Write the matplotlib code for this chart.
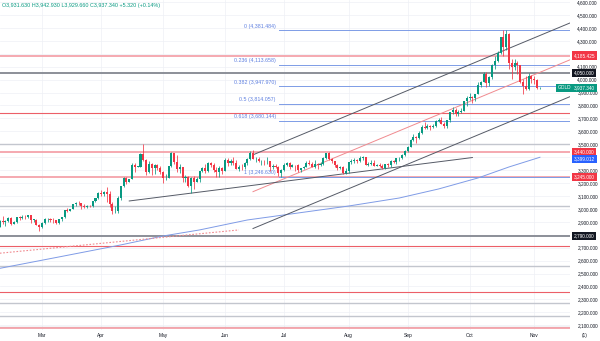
import numpy as np
import pandas as pd
import matplotlib
matplotlib.use("Agg")
import matplotlib.pyplot as plt
from matplotlib.transforms import blended_transform_factory

plt.rcParams["font.family"] = ["Liberation Sans", "DejaVu Sans"]

# -------- DAILY GOLD CANDLES (Feb 10 - Nov 5 2025) --------
dates = pd.bdate_range("2025-02-10", "2025-11-05")
first_open = 2861.0

closes = [
    2908, 2898, 2905, 2929, 2883,  2898, 2935, 2933, 2939, 2936,
    2952, 2915, 2916, 2876, 2857,  2893, 2918, 2920, 2911, 2910,
    2889, 2918, 2934, 2988, 2984,  3001, 3035, 3048, 3044, 3023,
    3012, 3020, 3019, 3057, 3084,  3124, 3113, 3133, 3114, 3037,
    2982, 2982, 3082, 3175, 3237,  3210, 3229, 3343, 3327, 3327,
    3424, 3381, 3288, 3349, 3319,  3343, 3317, 3288, 3239, 3240,
    3334, 3431, 3366, 3306, 3325,  3235, 3249, 3178, 3240, 3205,
    3230, 3290, 3315, 3295, 3357,  3343, 3300, 3288, 3318, 3290,
    3380, 3352, 3373, 3353, 3310,  3326, 3322, 3355, 3386, 3432,
    3385, 3389, 3369, 3370, 3368,  3368, 3323, 3333, 3327, 3274,
    3303, 3338, 3357, 3326, 3337,  3336, 3302, 3313, 3324, 3355,
    3344, 3324, 3347, 3339, 3350,  3397, 3431, 3387, 3368, 3337,
    3314, 3326, 3275, 3290, 3362,  3373, 3380, 3369, 3396, 3398,
    3342, 3348, 3356, 3335, 3336,  3332, 3315, 3348, 3339, 3372,
    3365, 3393, 3397, 3416, 3448,  3476, 3533, 3559, 3545, 3586,
    3636, 3626, 3640, 3634, 3643,  3679, 3690, 3660, 3644, 3685,
    3746, 3764, 3736, 3749, 3760,  3833, 3858, 3866, 3857, 3887,
    3961, 3985, 4040, 3976, 4017,  4110, 4142, 4209, 4326, 4251,
    4356, 4125, 4094, 4126, 4112,  3983, 3953, 3930, 4025, 4002,
    4000, 3931.63, 3937.34,
]
highs = [
    2911, 2942, 2910, 2935, 2936,  2906, 2937, 2947, 2955, 2954,
    2956, 2956, 2925, 2923, 2882,  2896, 2928, 2930, 2926, 2930,
    2915, 2922, 2940, 2990, 3005,  3002, 3038, 3050, 3057, 3048,
    3037, 3027, 3033, 3060, 3087,  3128, 3149, 3138, 3167, 3136,
    3055, 3023, 3100, 3175, 3245,  3245, 3230, 3358, 3357, 3332,
    3430, 3500, 3386, 3367, 3352,  3345, 3350, 3328, 3289, 3269,
    3335, 3438, 3435, 3414, 3348,  3327, 3265, 3253, 3245, 3252,
    3250, 3295, 3325, 3345, 3366,  3365, 3351, 3325, 3331, 3325,
    3392, 3392, 3385, 3403, 3375,  3340, 3349, 3360, 3397, 3446,
    3452, 3403, 3399, 3376, 3375,  3399, 3368, 3348, 3350, 3328,
    3307, 3358, 3365, 3366, 3344,  3343, 3345, 3318, 3330, 3368,
    3375, 3366, 3377, 3352, 3361,  3402, 3434, 3439, 3393, 3373,
    3345, 3334, 3334, 3315, 3363,  3385, 3390, 3385, 3409, 3409,
    3404, 3360, 3375, 3375, 3345,  3358, 3345, 3350, 3351, 3379,
    3376, 3393, 3398, 3423, 3453,  3489, 3540, 3578, 3564, 3600,
    3646, 3674, 3657, 3650, 3655,  3685, 3703, 3707, 3668, 3686,
    3749, 3791, 3778, 3761, 3779,  3835, 3872, 3895, 3875, 3890,
    3978, 3990, 4060, 4059, 4025,  4117, 4179, 4218, 4327, 4380,
    4381.484, 4357, 4161, 4160, 4145,  4115, 4004, 4030, 4047, 4032,
    4030, 4003, 3942.93,
]
lows = [
    2859, 2880, 2864, 2896, 2876,  2880, 2890, 2917, 2921, 2918,
    2930, 2890, 2895, 2874, 2832,  2852, 2886, 2895, 2896, 2894,
    2880, 2882, 2907, 2932, 2978,  2982, 2998, 3025, 3030, 2999,
    3003, 3005, 3013, 3015, 3055,  3077, 3100, 3103, 3055, 3015,
    2957, 2970, 2970, 3072, 3170,  3193, 3205, 3228, 3283, 3320,
    3323, 3367, 3260, 3278, 3265,  3268, 3300, 3268, 3202, 3223,
    3237, 3324, 3345, 3282, 3280,  3206, 3208, 3168, 3120, 3153,
    3205, 3204, 3285, 3277, 3287,  3321, 3285, 3245, 3245, 3271,
    3289, 3333, 3343, 3339, 3306,  3293, 3301, 3310, 3340, 3377,
    3382, 3366, 3362, 3340, 3340,  3348, 3295, 3310, 3315, 3255,
    3248, 3296, 3332, 3311, 3323,  3296, 3288, 3283, 3310, 3321,
    3340, 3320, 3319, 3310, 3333,  3340, 3383, 3380, 3351, 3324,
    3301, 3308, 3268, 3268, 3281,  3347, 3352, 3358, 3364, 3380,
    3341, 3331, 3342, 3330, 3330,  3323, 3311, 3312, 3324, 3321,
    3351, 3350, 3370, 3384, 3408,  3436, 3475, 3526, 3511, 3542,
    3578, 3620, 3620, 3611, 3625,  3636, 3670, 3655, 3628, 3627,
    3670, 3733, 3718, 3722, 3739,  3757, 3793, 3842, 3819, 3833,
    3885, 3942, 3983, 3945, 3947,  4006, 4085, 4135, 4195, 4185,
    4226, 4082, 4004, 4077, 4046,  3971, 3886, 3920, 3916, 3975,
    3963, 3928, 3929.66,
]

# -------- 200 DAY MA --------
ma_dates = ["2025-02-10", "2025-03-11", "2025-04-10", "2025-05-01", "2025-05-20",
            "2025-06-12", "2025-07-08", "2025-08-01", "2025-08-27", "2025-09-16",
            "2025-10-06", "2025-10-21", "2025-11-05"]
ma_values = [2540, 2628, 2721, 2790, 2837, 2914, 2968, 3022, 3084, 3154, 3239, 3324, 3399]

# -------- HORIZONTAL LEVELS --------
level_prices = [4185.425, 4050, 3742, 3500, 3440, 3245, 3022, 2790, 2711, 2561,
                2357, 2270, 2172, 2090, 2076]
level_kind = ["pink", "dark", "red", "gray", "pink", "pink", "gray", "dark", "red", "gray",
              "red", "gray", "gray", "gray", "pink"]

# -------- FIBONACCI RETRACEMENT --------
fib_ratios = [0, 0.236, 0.382, 0.5, 0.618, 1]
fib_high = 4381.484
fib_low = 3246.63
fib_start = "2025-06-30"

# -------- TREND LINES (date, price) --------
channel_dates = ["2025-06-16", "2025-11-03"]
channel_upper = [3418, 4323]
channel_mid = [3133, 4038]
channel_lower = [2848, 3753]
support_dates = ["2025-04-15", "2025-10-02"]
support_prices = [3061, 3397]
dotted_dates = ["2025-02-10", "2025-06-09"]
dotted_prices = [2657, 2837]

# -------- RIGHT AXIS TAGS --------
tag_texts = ["4,185.425", "4,050.000", "3,937.340", "3,440.000", "3,399.012", "3,245.000", "2,790.000"]
tag_prices = [4185.425, 4050, 3937.34, 3440, 3385, 3245, 2790]
tag_colors = ["#f23645", "#131722", "#089981", "#f23645", "#2962ff", "#f23645", "#131722"]

header = "O3,931.630 H3,942.930 L3,929.660 C3,937.340 +5.320 (+0.14%)"

UP = "#089981"
DOWN = "#f23645"
KIND_STYLE = {
    "pink": ("#f5a3aa", 1.3),
    "red": ("#ec5f68", 0.8),
    "gray": ("#c3c6ce", 1.0),
    "dark": ("#8c8f98", 1.4),
}


def idx(d):
    return dates.get_loc(pd.Timestamp(d))


def extend(ds, ps, x_end):
    x0, x1 = idx(ds[0]), idx(ds[1])
    slope = (ps[1] - ps[0]) / (x1 - x0)
    return [x0, x_end], [ps[0], ps[0] + slope * (x_end - x0)]


fig = plt.figure(figsize=(6, 3.41), dpi=100)
ax = fig.add_axes([0, 11 / 341, 570 / 600, 330 / 341])

X_MAX = 202.7
ax.set_xlim(0.05, X_MAX)
ax.set_ylim(2063, 4615.5)

# grid
yt = list(range(2100, 4700, 100))
ax.set_yticks(yt)
hidden = {2800, 3400, 4200}
ax.set_yticklabels(["" if v in hidden else f"{v:,.3f}" for v in yt])
month_starts = []
month_names = []
for m in range(3, 12):
    first = dates[dates.month == m][0]
    month_starts.append(dates.get_loc(first))
    month_names.append(first.strftime("%b"))
ax.set_xticks(month_starts)
ax.set_xticklabels(month_names)
ax.grid(True, color="#eef0f5", lw=0.5)
ax.set_axisbelow(True)
ax.yaxis.tick_right()
ax.tick_params(axis="y", length=0, pad=5.3, labelsize=3.4, labelcolor="#131722")
ax.tick_params(axis="x", length=0, pad=2.0, labelsize=3.5, labelcolor="#131722")
for s in ax.spines.values():
    s.set_visible(False)

# levels
for p, k in zip(level_prices, level_kind):
    col, lw = KIND_STYLE[k]
    ax.axhline(p, color=col, lw=lw, zorder=1)

# fib
fx = idx(fib_start) - 0.7
for r in fib_ratios:
    p = fib_high - r * (fib_high - fib_low)
    ax.plot([fx, X_MAX], [p, p], color="#7d9ce6", lw=0.7, zorder=1)
    ax.text(fx - 1.2, p + 12, f"{r:g} ({p:,.3f})", fontsize=3.8, color="#5d7fe0",
            ha="right", va="bottom")

# MA
ax.plot([idx(d) for d in ma_dates], ma_values, color="#7f9be6", lw=0.7, zorder=2)

# trend lines
for ps, col in [(channel_upper, "#555a66"), (channel_lower, "#555a66"), (channel_mid, "#f08a8f")]:
    xs, ys = extend(channel_dates, ps, X_MAX)
    ax.plot(xs, ys, color=col, lw=0.7, zorder=2)
ax.plot([idx(d) for d in support_dates], support_prices, color="#555a66", lw=0.7, zorder=2)
ax.plot([idx(d) for d in dotted_dates], dotted_prices, color="#f08a8f", lw=0.8,
        ls=(0, (1.5, 1.5)), zorder=2)

# candles
x = np.arange(len(dates))
c = np.array(closes, dtype=float)
o = np.concatenate([[first_open], c[:-1]])
h = np.array(highs, dtype=float)
l = np.array(lows, dtype=float)
cols = np.where(c >= o, UP, DOWN)
ax.vlines(x, l, h, colors=cols, lw=0.55, zorder=3)
ax.bar(x, np.maximum(np.abs(c - o), 3), bottom=np.minimum(o, c), width=0.72,
       color=cols, lw=0, zorder=4)

# right axis tags
tr = blended_transform_factory(fig.transFigure, ax.transData)
for t, p, col in zip(tag_texts, tag_prices, tag_colors):
    ax.text(574 / 600, p, t, transform=tr, fontsize=3.4, color="white", ha="left",
            va="center", clip_on=False, zorder=6,
            bbox=dict(boxstyle="square,pad=0.35", fc=col, ec="none"))
ax.text(557.5 / 600, 3937.34, "GOLD", transform=tr, fontsize=3.4, color="white", ha="left",
        va="center", clip_on=False, zorder=6,
        bbox=dict(boxstyle="square,pad=0.35", fc=UP, ec="none"))

fig.text(0.003, 1 - 6 / 341, header, fontsize=3.9, color="#089981", va="center")
fig.text(585 / 600, 6 / 341, "(1)", fontsize=3.4, color="#131722", ha="center", va="center")

fig.savefig("out.png", dpi=100)
